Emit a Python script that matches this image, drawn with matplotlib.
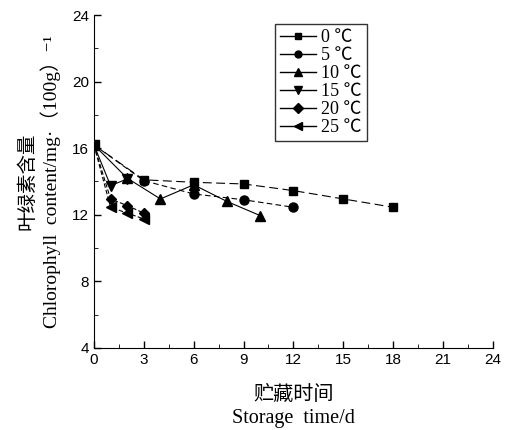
import matplotlib
matplotlib.use("Agg")
import matplotlib.pyplot as plt
from matplotlib.ticker import MultipleLocator

plt.rcParams["font.family"] = ["Liberation Sans", "DejaVu Sans"]

labels = ["0 ℃", "5 ℃", "10 ℃", "15 ℃", "20 ℃", "25 ℃"]
x0 = [0, 3, 6, 9, 12, 15, 18]
y0 = [16.2, 14.1, 13.95, 13.85, 13.45, 12.95, 12.45]
x5 = [0, 3, 6, 9, 12]
y5 = [16.2, 14.05, 13.25, 12.9, 12.45]
x10 = [0, 2, 4, 6, 8, 10]
y10 = [16.2, 14.2, 12.95, 13.8, 12.8, 11.95]
x15 = [0, 1, 2]
y15 = [16.2, 13.75, 14.15]
x20 = [0, 1, 2, 3]
y20 = [16.2, 12.95, 12.55, 12.1]
x25 = [0, 1, 2, 3]
y25 = [16.2, 12.45, 12.1, 11.75]

xs = [x0, x5, x10, x15, x20, x25]
ys = [y0, y5, y10, y15, y20, y25]
markers = ["s", "o", "^", "v", "D", "<"]
sizes = [6, 6.5, 7, 7, 5.5, 7]
styles = [(0, (8, 4)), (0, (5, 3)), "-", "-", (0, (4, 2)), (0, (4, 2))]

fig = plt.figure(figsize=(5.05, 4.3), dpi=100)
ax = fig.add_axes([0.186, 0.191, 0.79, 0.774])

for x, y, m, s, ls, lab in zip(xs, ys, markers, sizes, styles, labels):
    ax.plot(x, y, color="black", marker=m, markersize=s, linewidth=0.8,
            linestyle=ls, label=lab)

ax.set_xlim(0, 24)
ax.set_ylim(4, 24)
ax.xaxis.set_major_locator(MultipleLocator(3))
ax.xaxis.set_minor_locator(MultipleLocator(1.5))
ax.yaxis.set_major_locator(MultipleLocator(4))
ax.yaxis.set_minor_locator(MultipleLocator(2))
ax.tick_params(which="both", direction="in", labelsize=11)
ax.tick_params(which="major", length=5, width=1)
ax.tick_params(which="minor", length=3)
ax.spines["top"].set_visible(False)
ax.spines["right"].set_visible(False)

cjk = ["Liberation Serif", "Noto Sans CJK SC", "DejaVu Sans"]
ylab_fam = ["Liberation Serif", "DejaVu Serif", "Noto Sans CJK SC"]
ax.set_xlabel("贮藏时间\nStorage  time/d", family=cjk, fontsize=14.5,
              linespacing=1.25, labelpad=14)
ax.set_ylabel("叶绿素含量\nChlorophyll  content/mg·（100g）⁻¹",
              family=ylab_fam, fontsize=14, linespacing=1.25, labelpad=8)

leg_lines = []
for m, s, lab in zip(markers, [5, 5, 6, 6, 5, 6], labels):
    ln, = ax.plot([], [], color="black", marker=m, markersize=s,
                  linewidth=1.0, linestyle="-", label=lab)
    leg_lines.append(ln)
ax.legend(handles=leg_lines, loc="upper left", bbox_to_anchor=(0.43, 1.0),
          frameon=True, fancybox=False, edgecolor="black",
          prop={"family": cjk, "size": 13}, handlelength=2.0,
          labelspacing=0.05, borderpad=0.3, handletextpad=0.3)

fig.savefig("out.png", dpi=100)
